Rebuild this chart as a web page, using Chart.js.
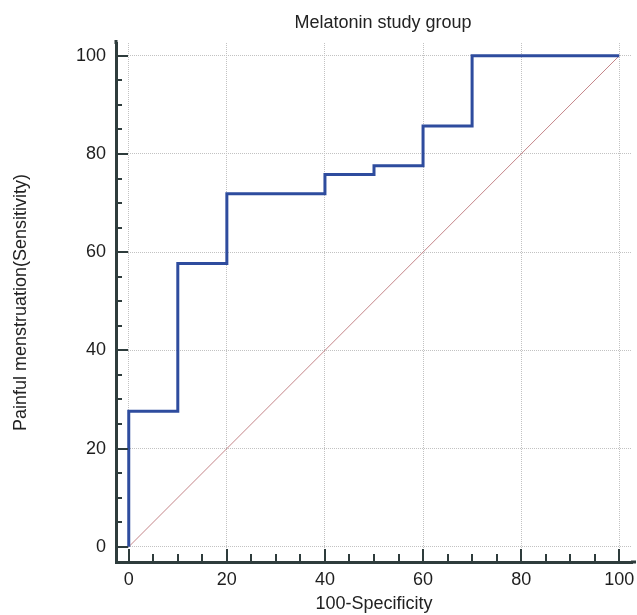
<!DOCTYPE html>
<html>
<head>
<meta charset="utf-8">
<script src="https://cdn.jsdelivr.net/npm/chart.js@4/dist/chart.umd.min.js"></script>
<style>
html,body{margin:0;padding:0;background:#fff;}
#wrap{width:637px;height:615px;position:relative;}
</style>
</head>
<body>
<div id="wrap"><canvas id="c" width="637" height="615"></canvas></div>
<script>
// ---- data ----
const chartTitle = 'Melatonin study group';
const xTitle = '100-Specificity';
const yTitle = 'Painful menstruation(Sensitivity)';
const rocX = [0, 0, 10, 10, 20, 20, 40, 40, 50, 50, 60, 60, 70, 70, 100];
const rocY = [0, 27.6, 27.6, 57.7, 57.7, 71.9, 71.9, 75.8, 75.8, 77.6, 77.6, 85.7, 85.7, 100, 100];
const diagX = [0, 100];
const diagY = [0, 100];
const majorTicks = [0, 20, 40, 60, 80, 100];
const minorTicks = [5, 10, 15, 25, 30, 35, 45, 50, 55, 65, 70, 75, 85, 90, 95];

const FONT = "'Liberation Sans', Arial, Helvetica, sans-serif";
const AXIS_COLOR = '#2e3c3c';

const inwardTicks = {
  id: 'inwardTicks',
  afterLayout(chart) {
    if (chart.titleBlock) { chart.titleBlock.left += 18; }
  },
  afterDraw(chart) {
    const ctx = chart.ctx;
    const xs = chart.scales.x, ys = chart.scales.y;
    const area = chart.chartArea;
    ctx.save();
    ctx.strokeStyle = AXIS_COLOR;
    ctx.lineWidth = 2;
    ctx.beginPath();
    majorTicks.forEach(v => {
      const px = Math.round(xs.getPixelForValue(v));
      ctx.moveTo(px, area.bottom); ctx.lineTo(px, area.bottom - 13);
      const py = Math.round(ys.getPixelForValue(v));
      ctx.moveTo(area.left, py); ctx.lineTo(area.left + 12, py);
    });
    minorTicks.forEach(v => {
      const px = Math.round(xs.getPixelForValue(v));
      ctx.moveTo(px, area.bottom); ctx.lineTo(px, area.bottom - 8);
      const py = Math.round(ys.getPixelForValue(v));
      ctx.moveTo(area.left, py); ctx.lineTo(area.left + 6, py);
    });
    ctx.stroke();
    // slight extension of axis lines like the reference
    ctx.lineWidth = 3;
    ctx.beginPath();
    ctx.moveTo(area.left, area.top - 3); ctx.lineTo(area.left, area.top + 1);
    ctx.moveTo(area.right - 1, area.bottom); ctx.lineTo(area.right + 4, area.bottom);
    ctx.stroke();
    ctx.restore();
  }
};

const setTicks = s => { s.ticks = majorTicks.map(v => ({ value: v })); };

new Chart(document.getElementById('c'), {
  type: 'scatter',
  data: {
    datasets: [
      {
        data: rocX.map((x, i) => ({ x: x, y: rocY[i] })),
        showLine: true,
        borderColor: '#2e4c9e',
        borderWidth: 3,
        pointRadius: 0,
        fill: false,
        tension: 0,
        order: 1
      },
      {
        data: diagX.map((x, i) => ({ x: x, y: diagY[i] })),
        showLine: true,
        borderColor: 'rgb(196,132,136)',
        borderWidth: 1,
        pointRadius: 0,
        fill: false,
        order: 2
      }
    ]
  },
  options: {
    responsive: false,
    animation: false,
    devicePixelRatio: 1,
    layout: { padding: { left: 0, right: 5, top: 0, bottom: 0 } },
    plugins: {
      legend: { display: false },
      tooltip: { enabled: false },
      title: {
        display: true,
        fullSize: false,
        text: chartTitle,
        color: '#222',
        font: { family: FONT, size: 18, weight: 'normal' },
        padding: { top: 12, bottom: 9.4 }
      }
    },
    scales: {
      x: {
        type: 'linear',
        min: -2.6,
        max: 102.6,
        afterBuildTicks: setTicks,
        afterFit: s => { s.height = 53; s.paddingLeft = 0; s.paddingRight = 0; },
        grid: { color: '#c2c2c2', lineWidth: 1, drawTicks: false },
        border: { display: true, color: AXIS_COLOR, width: 3, dash: [1, 1] },
        ticks: { color: '#1e1e1e', font: { family: FONT, size: 18 }, padding: 7, maxRotation: 0 },
        title: { display: true, text: xTitle, color: '#222', font: { family: FONT, size: 18 }, padding: { top: 0, bottom: 0 } }
      },
      y: {
        type: 'linear',
        min: -3.1,
        max: 102.6,
        afterBuildTicks: setTicks,
        afterFit: s => { s.width = 116; s.paddingTop = 0; s.paddingBottom = 0; },
        grid: { color: '#c2c2c2', lineWidth: 1, drawTicks: false },
        border: { display: true, color: AXIS_COLOR, width: 3, dash: [1, 1] },
        ticks: { color: '#1e1e1e', font: { family: FONT, size: 18 }, padding: 10 },
        title: { display: true, text: yTitle, color: '#222', font: { family: FONT, size: 18 }, padding: { top: 10, bottom: 0 } }
      }
    }
  },
  plugins: [inwardTicks]
});
</script>
</body>
</html>
